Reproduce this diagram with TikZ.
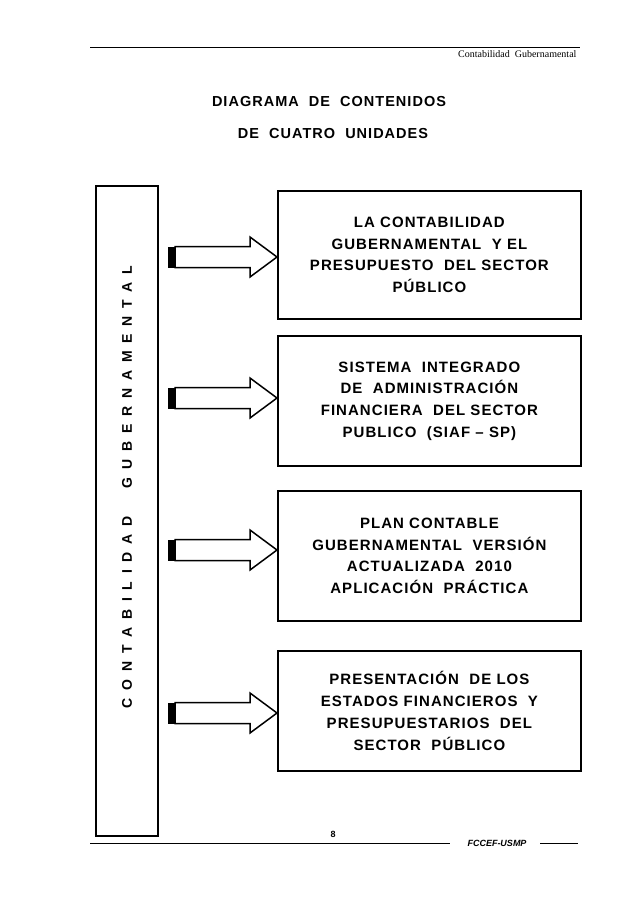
\documentclass[tikz,border=0pt]{standalone}
\usepackage{fontspec}
\setmainfont{Liberation Sans}
\newfontfamily\serifx{Liberation Serif}
\newfontfamily\wide[LetterSpace=7]{Liberation Sans}
\begin{document}
\begin{tikzpicture}[x=1pt,y=-1pt,
  bx/.style={draw,line width=1.8pt,minimum width=303pt,align=center,font=\wide\bfseries\fontsize{15}{21.7}\selectfont,anchor=north west}]
\useasboundingbox (0,0) rectangle (638,903);
\draw[line width=0.6pt] (90,47) -- (580,47);
\node[anchor=east,font=\serifx\fontsize{10}{12}\selectfont] (hd) at (580,54) {Contabilidad\ \ Gubernamental};
\node[font=\wide\bfseries\fontsize{14.5}{16}\selectfont] (t1) at (329,102) {DIAGRAMA\ \ DE\ \ CONTENIDOS};
\node[font=\wide\bfseries\fontsize{14.5}{16}\selectfont] (t2) at (333,134) {DE\ \ CUATRO\ \ UNIDADES};
\node[draw,line width=1.8pt,minimum width=62pt,minimum height=650pt,anchor=north west] (L) at (95,185) {};
\node[rotate=90,font=\bfseries\fontsize{14}{16}\selectfont] (Lt) at (127,487) {C\ \ O\ \ N\ \ T\ \ A\ \ B\ \ I\ \ L\ \ I\ \ D\ \ A\ \ D\qquad G\ \ U\ \ B\ \ E\ \ R\ \ N\ \ A\ \ M\ \ E\ \ N\ \ T\ \ A\ \ L};
\node[bx,minimum height=128pt] (b1) at (277,190) {LA CONTABILIDAD\\GUBERNAMENTAL\ \ Y EL\\PRESUPUESTO\ \ DEL SECTOR\\PÚBLICO};
\node[bx,minimum height=130pt] (b2) at (277,335) {SISTEMA\ \ INTEGRADO\\DE\ \ ADMINISTRACIÓN\\FINANCIERA\ \ DEL SECTOR\\PUBLICO\ \ (SIAF – SP)};
\node[bx,minimum height=130pt] (b3) at (277,490) {PLAN CONTABLE\\GUBERNAMENTAL\ \ VERSIÓN\\ACTUALIZADA\ \ 2010\\APLICACIÓN\ \ PRÁCTICA};
\node[bx,minimum height=120pt] (b4) at (277,650) {PRESENTACIÓN\ \ DE LOS\\ESTADOS FINANCIEROS\ \ Y\\PRESUPUESTARIOS\ \ DEL\\SECTOR\ \ PÚBLICO};
\foreach \n/\y in {1/257,2/398,3/550,4/713}{
  \fill (168,\y-10.5) rectangle (175,\y+10.5);
  \draw[line width=1.5pt,line join=miter] (175,\y-10.5) -- (250,\y-10.5) -- (250,\y-20) -- (b\n.west |- 0,\y) -- (250,\y+20) -- (250,\y+10.5) -- (175,\y+10.5) -- cycle;
}
\draw[line width=0.7pt] (90,843) -- (450,843);
\node[font=\bfseries\fontsize{9}{11}\selectfont] (pg) at (333,834) {8};
\node[font=\bfseries\itshape\fontsize{9}{11}\selectfont] (ft) at (497,843) {FCCEF-USMP};
\draw[line width=0.7pt] (540,843) -- (578,843);
\end{tikzpicture}
\end{document}
